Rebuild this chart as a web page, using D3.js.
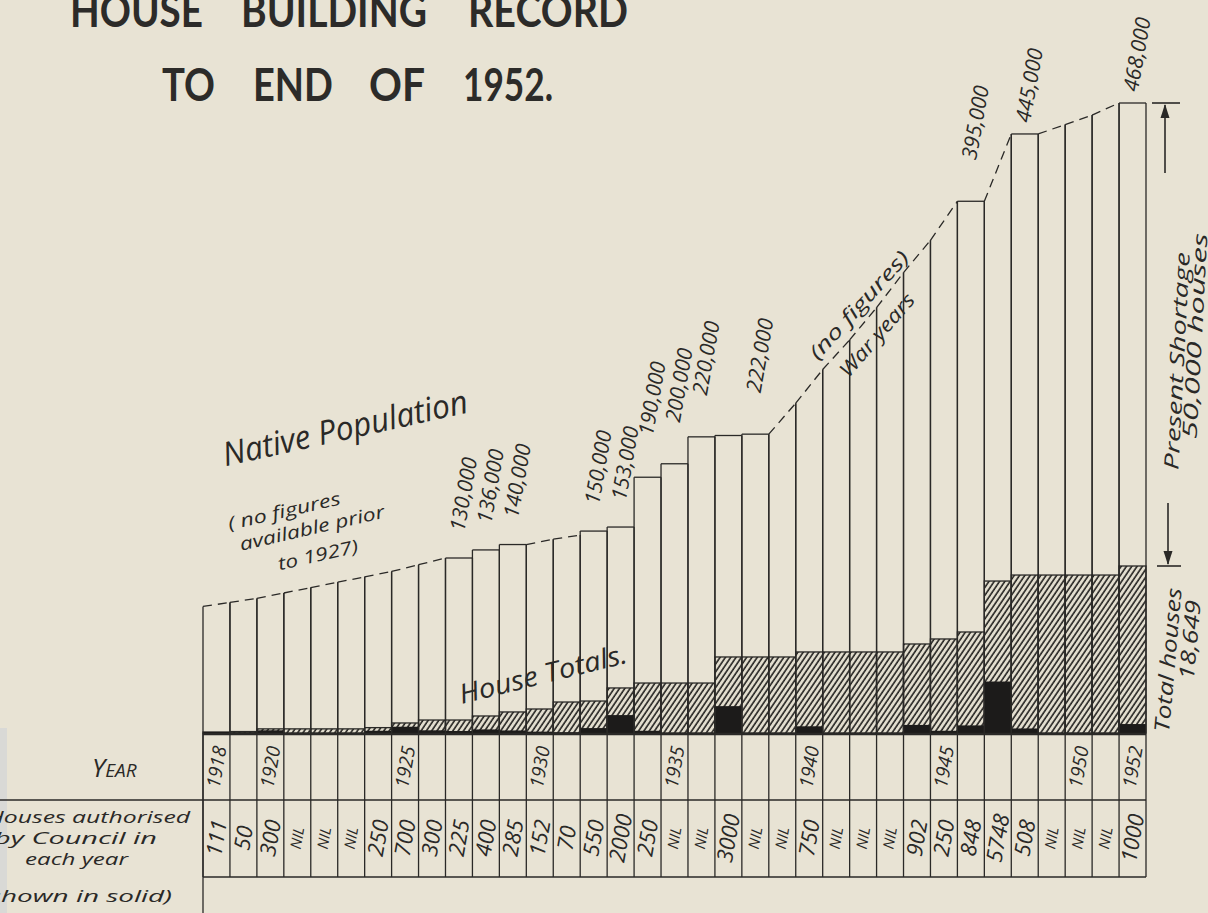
<!DOCTYPE html>
<html><head><meta charset="utf-8">
<script src="https://cdn.jsdelivr.net/npm/d3@7"></script>
<style>
html,body{margin:0;padding:0;background:#e8e3d4;}
svg{display:block;}
</style></head><body>
<svg id="c" width="1208" height="913"></svg>
<script>
// ---------------- DATA ----------------
const years = [1918,1919,1920,1921,1922,1923,1924,1925,1926,1927,1928,1929,1930,1931,1932,1933,1934,1935,
               1936,1937,1938,1939,1940,1941,1942,1943,1944,1945,1946,1947,1948,1949,1950,1951,1952];
// native population (height reached at right edge of each bar; estimated where no figures)
const populationStart = 94000;
const population = [97000,100000,104000,108000,112000,116000,120000,125000,130000,
                    130000,136000,140000,144000,147000,150000,153000,190000,200000,220000,221000,222000,
                    245000,270000,292000,316000,342000,366000,395000,
                    395000,445000,445000,452000,459000,468000,468000];
// years with recorded population figures (solid top), others dashed
const populationRecorded = [false,false,false,false,false,false,false,false,false,
                    true,true,true,false,false,true,true,true,true,true,true,true,
                    false,false,false,false,false,false,false,
                    true,false,true,false,false,false,true];
const populationLabels = [null,null,null,null,null,null,null,null,null,
                    "130,000","136,000","140,000",null,null,"150,000","153,000","190,000","200,000","220,000",null,"222,000",
                    null,null,null,null,null,null,null,
                    "395,000",null,"445,000",null,null,null,"468,000"];
// total houses (hatched)
const houseTotals = [111,161,461,461,461,461,600,1120,1450,1450,1900,2350,2680,3460,3570,5030,5580,5580,5580,
                     8490,8490,8490,9050,9050,9050,9050,9940,10500,11280,16970,17640,17640,17640,17640,18649];
// houses authorised by council each year (solid)
const authorised = [111,50,300,0,0,0,250,700,300,225,400,285,152,70,550,2000,250,0,0,
                    3000,0,0,750,0,0,0,902,250,848,5748,508,0,0,0,1000];
const yearTicks = [1918,1920,1925,1930,1935,1940,1945,1950,1952];
const populationMax = 468000;
const housesMax = 18649;

// ---------------- LAYOUT ----------------
const INK = "#2a2927";
const HAND = "'Open Sans', 'DejaVu Sans', sans-serif";
const svg = d3.select("#c");
const base = 733;
const x = d3.scaleBand().domain(years).range([203, 1146]).padding(0);
const yPop = d3.scaleLinear().domain([0, populationMax]).range([base, 103]);
const yHouse = d3.scaleLinear().domain([0, housesMax]).range([base, 566]);

// background paper
svg.append("rect").attr("width",1208).attr("height",913).attr("fill","#e8e3d4");
svg.append("rect").attr("x",0).attr("y",728).attr("width",7).attr("height",185).attr("fill","#d9d9d6");

const defs = svg.append("defs");
const pat = defs.append("pattern").attr("id","hatch").attr("patternUnits","userSpaceOnUse")
  .attr("width",4.4).attr("height",10).attr("patternTransform","rotate(34)");
pat.append("rect").attr("width",4.4).attr("height",10).attr("fill","#e4dfd0");
pat.append("line").attr("x1",1).attr("y1",0).attr("x2",1).attr("y2",10)
  .attr("stroke","#232220").attr("stroke-width",1.6);

const data = years.map((yr,i)=>({
  yr, i,
  pop: population[i],
  rec: populationRecorded[i],
  leftTop: populationRecorded[i] ? population[i] : (i===0 ? populationStart : population[i-1]),
  label: populationLabels[i],
  total: houseTotals[i],
  auth: authorised[i]
}));
const bw = x.bandwidth();

// hatched house totals
svg.append("g").selectAll("rect").data(data).join("rect")
  .attr("x", d=>x(d.yr)).attr("width", bw)
  .attr("y", d=>yHouse(d.total)).attr("height", d=>base - yHouse(d.total))
  .attr("fill","url(#hatch)").attr("stroke",INK).attr("stroke-width",1.3);

// solid authorised
svg.append("g").selectAll("rect").data(data.filter(d=>d.auth>0)).join("rect")
  .attr("x", d=>x(d.yr)).attr("width", bw)
  .attr("y", d=>yHouse(d.auth)).attr("height", d=>base - yHouse(d.auth))
  .attr("fill","#1c1b1a");

// population bar outlines
const gBars = svg.append("g").attr("stroke",INK).attr("stroke-width",1.3).attr("fill","none");
data.forEach(d=>{
  const xl = x(d.yr), xr = x(d.yr)+bw;
  gBars.append("line").attr("x1",xl).attr("x2",xl).attr("y1",base).attr("y2",yPop(d.leftTop));
  gBars.append("line").attr("x1",xr).attr("x2",xr).attr("y1",base).attr("y2",yPop(d.pop));
  const top = gBars.append("line").attr("x1",xl).attr("y1",yPop(d.leftTop)).attr("x2",xr).attr("y2",yPop(d.pop));
  if(!d.rec) top.attr("stroke-dasharray","9,6");
});

// baseline
svg.append("line").attr("x1",203).attr("x2",1146).attr("y1",base+1).attr("y2",base+1)
  .attr("stroke",INK).attr("stroke-width",2.6);

// population labels
svg.append("g").selectAll("text").data(data.filter(d=>d.label)).join("text")
  .attr("transform", d=>{
    const lift = d.pop > 440000 ? 12 : (d.pop > 180000 ? 42 : 27);
    return `translate(${x(d.yr)+bw/2-2},${yPop(d.pop)-lift}) rotate(-80)`;
  })
  .attr("dy","0.35em").attr("font-family",HAND).attr("font-style","italic")
  .attr("font-size",21).attr("fill",INK).text(d=>d.label);

// ---------------- TABLE ----------------
const gT = svg.append("g").attr("stroke",INK).attr("stroke-width",1.3);
gT.append("line").attr("x1",0).attr("x2",1146).attr("y1",800).attr("y2",800);
gT.append("line").attr("x1",203).attr("x2",1146).attr("y1",877).attr("y2",877);
gT.append("line").attr("x1",203).attr("x2",203).attr("y1",733).attr("y2",913);
gT.selectAll("line.v").data(years.concat(["end"])).join("line").attr("class","v")
  .attr("x1", (d,i)=> i<years.length ? x(d) : x(years[years.length-1])+bw)
  .attr("x2", (d,i)=> i<years.length ? x(d) : x(years[years.length-1])+bw)
  .attr("y1",733).attr("y2",877);

svg.append("g").selectAll("text").data(yearTicks).join("text")
  .attr("transform", d=>`translate(${x(d)+bw/2},767) rotate(-80)`)
  .attr("text-anchor","middle").attr("dy","0.35em")
  .attr("font-family",HAND).attr("font-style","italic").attr("font-size",19).attr("fill",INK)
  .text(d=>d);

svg.append("g").selectAll("text").data(data).join("text")
  .attr("transform", d=>`translate(${x(d.yr)+bw/2},838) rotate(-80)`)
  .attr("text-anchor","middle").attr("dy","0.35em")
  .attr("font-family",HAND).attr("font-style","italic")
  .attr("font-size", d=>d.auth===0 ? 15 : 22).attr("fill",INK)
  .text(d=>d.auth===0 ? "NIL" : String(d.auth));

// left column labels
const yearLbl = svg.append("text").attr("x",92).attr("y",777).attr("font-family",HAND)
  .attr("font-style","italic").attr("fill",INK);
yearLbl.append("tspan").attr("font-size",26).text("Y");
yearLbl.append("tspan").attr("font-size",19).text("EAR");

const leftLines = [["Houses authorised",-13,823,203],["by Council in",-6,844,163],["each year",25,865,103],["(shown in solid)",-19,902,191]];
svg.append("g").selectAll("text").data(leftLines).join("text")
  .attr("x",d=>d[1]).attr("y",d=>d[2]).attr("textLength",d=>d[3]).attr("lengthAdjust","spacingAndGlyphs")
  .attr("font-family",HAND).attr("font-style","italic")
  .attr("font-size",16).attr("fill",INK).text(d=>d[0]);

// ---------------- TITLE ----------------
const titleWords = [["HOUSE",70,27,133],["BUILDING",241,27,186],["RECORD",468,27,160],
                    ["TO",162,101,53],["END",253,101,80],["OF",369,101,56],["1952.",463,101,90]];
svg.append("g").selectAll("text").data(titleWords).join("text")
  .attr("x",d=>d[1]).attr("y",d=>d[2]).attr("textLength",d=>d[3]).attr("lengthAdjust","spacingAndGlyphs")
  .attr("font-family","Lato, 'Noto Sans', sans-serif").attr("font-weight","bold")
  .attr("font-size",45).attr("fill","#2c2b29").text(d=>d[0]);

// ---------------- ANNOTATIONS ----------------
function hand(txt, cx, cy, ang, size, len){
  const t = svg.append("text").attr("transform",`translate(${cx},${cy}) rotate(${ang})`)
    .attr("text-anchor","middle").attr("dy","0.35em")
    .attr("font-family",HAND).attr("font-style","italic").attr("font-size",size).attr("fill",INK).text(txt);
  if(len) t.attr("textLength",len).attr("lengthAdjust","spacingAndGlyphs");
  return t;
}
hand("Native Population", 345, 428, -12.5, 33, 250);
hand("( no figures", 284, 511, -13, 18, 115);
hand("available prior", 312, 528, -13, 18, 148);
hand("to  1927)", 318, 555, -13, 18, 82);
hand("House  Totals.", 543, 674, -14, 27, 172);
hand("(no  figures)", 859, 305, -48, 20, 138);
hand("War years", 877, 335, -49, 20, 103);
hand("Present  Shortage", 1177, 361, -87, 20, 218);
hand("50,000  houses", 1195, 336, -87, 20, 206);
hand("Total houses", 1168, 660, -85, 21, 145);
hand("18,649", 1190, 640, -85, 21, 80);

// shortage arrows
const gA = svg.append("g").attr("stroke",INK).attr("stroke-width",1.6);
gA.append("line").attr("x1",1152).attr("x2",1180).attr("y1",yPop(populationMax)).attr("y2",yPop(populationMax));
gA.append("line").attr("x1",1165).attr("x2",1165).attr("y1",yPop(populationMax)+2).attr("y2",173);
svg.append("path").attr("d",`M1165,${yPop(populationMax)+1} l-4.5,14 l9,0 z`).attr("fill",INK);
gA.append("line").attr("x1",1157).attr("x2",1181).attr("y1",yHouse(housesMax)).attr("y2",yHouse(housesMax));
gA.append("line").attr("x1",1168).attr("x2",1168).attr("y1",503).attr("y2",yHouse(housesMax)-2);
svg.append("path").attr("d",`M1168,${yHouse(housesMax)-1} l-4.5,-14 l9,0 z`).attr("fill",INK);
</script>
</body></html>
